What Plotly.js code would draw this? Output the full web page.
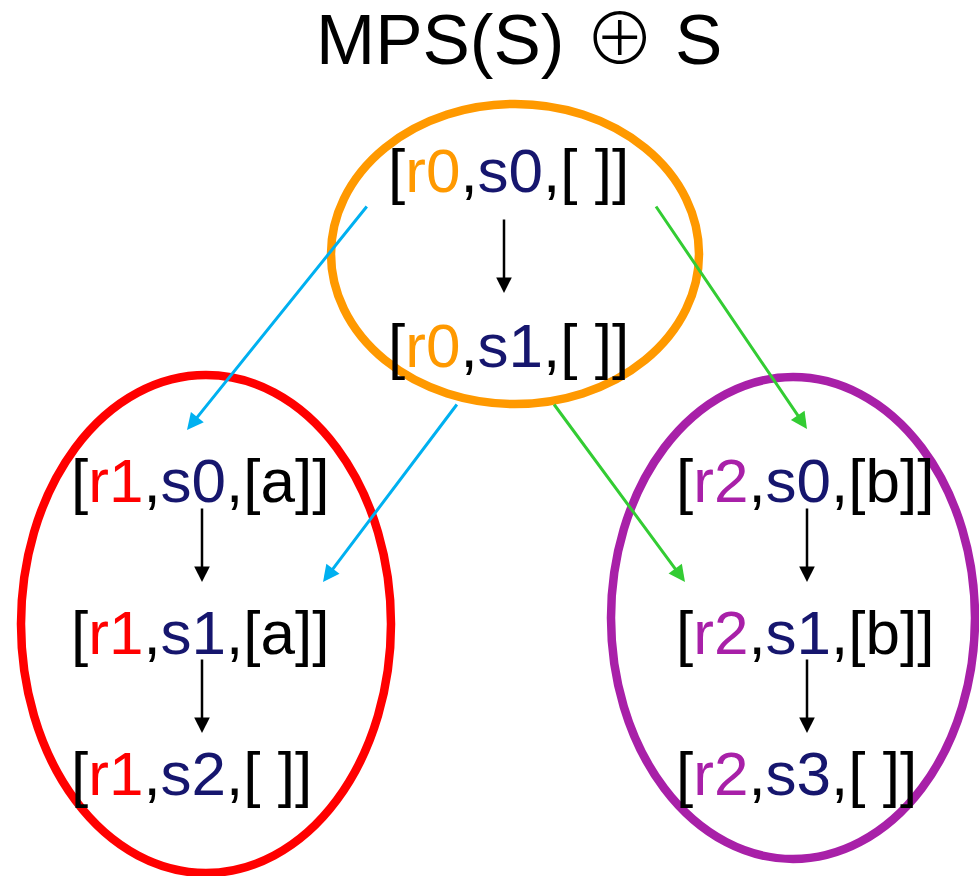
<!DOCTYPE html>
<html>
<head>
<meta charset="utf-8">
<script src="https://cdn.plot.ly/plotly-3.0.1.min.js"></script>
<style>html,body{margin:0;padding:0;background:#fff;}#chart{width:979px;height:876px;}</style>
</head>
<body>
<div id="chart"></div>
<script>
// ---- data ----
const titleMain = 'MPS(S)';
const titleOp = '⊕';
const titleTail = 'S';

const nodeR = ['r0', 'r0', 'r1', 'r1', 'r1', 'r2', 'r2', 'r2'];
const nodeS = ['s0', 's1', 's0', 's1', 's2', 's0', 's1', 's3'];
const nodeList = ['[ ]', '[ ]', '[a]', '[a]', '[ ]', '[b]', '[b]', '[ ]'];
const nodeGroup = [0, 0, 1, 1, 1, 2, 2, 2];
const nodeLeft = [386, 386, 69, 69, 69, 674, 674, 674];
const nodeMidY = [170, 345, 480, 632, 773, 480, 632, 773];

const groupCx = [515, 206, 793];
const groupCy = [254, 624, 618];
const groupRx = [184, 185, 182];
const groupRy = [150, 249, 241];
const groupColor = ['#FF9900', '#FF0000', '#A820A8'];

const arrowTailX = [504, 202, 202, 807, 807, 368, 458, 655, 553];
const arrowTailY = [218, 507, 658, 507, 658, 205, 403, 205, 403];
const arrowHeadX = [504, 202, 202, 807, 807, 187, 323, 807, 685];
const arrowHeadY = [293, 582, 733, 582, 733, 430, 582, 429, 582];
const arrowKind = ['step', 'step', 'step', 'step', 'step', 'blue', 'blue', 'green', 'green'];

const sColor = '#16166E';
const kindColor = {step: '#000000', blue: '#00B0F0', green: '#33CC33'};
const kindWidth = {step: 2.5, blue: 3, green: 3};
const kindSize = {step: 1.25, blue: 1.1, green: 1.1};

// ---- build ----
const FONT = 'Arial, "Liberation Sans", sans-serif';

const shapes = groupCx.map((cx, i) => ({
  type: 'circle', xref: 'x', yref: 'y',
  x0: cx - groupRx[i], x1: cx + groupRx[i],
  y0: groupCy[i] - groupRy[i], y1: groupCy[i] + groupRy[i],
  line: {color: groupColor[i], width: 8.5},
  fillcolor: 'rgba(0,0,0,0)', layer: 'above'
}));

const annotations = [];
nodeR.forEach((r, i) => {
  const rc = groupColor[nodeGroup[i]];
  annotations.push({
    xref: 'x', yref: 'y', x: nodeLeft[i], y: nodeMidY[i],
    xanchor: 'left', yanchor: 'middle', showarrow: false,
    text: '[<span style="color:' + rc + '">' + r + '</span>,<span style="color:' + sColor + '">' + nodeS[i] + '</span>,' + nodeList[i] + ']',
    font: {family: FONT, size: 62, color: '#000000'}
  });
});

arrowTailX.forEach((tx, i) => {
  const k = arrowKind[i];
  annotations.push({
    xref: 'x', yref: 'y', axref: 'x', ayref: 'y',
    x: arrowHeadX[i], y: arrowHeadY[i], ax: tx, ay: arrowTailY[i],
    text: '', showarrow: true, arrowhead: 2,
    arrowsize: kindSize[k], arrowwidth: kindWidth[k], arrowcolor: kindColor[k],
    standoff: 0, startstandoff: 0
  });
});

annotations.push({
  xref: 'x', yref: 'y', x: 519, y: 33, xanchor: 'center', yanchor: 'middle', showarrow: false,
  text: titleMain + ' <span style="font-family:\'Noto Sans CJK SC\';font-weight:300">' + titleOp + '</span> ' + titleTail,
  font: {family: FONT, size: 71, color: '#000000'}
});

const layout = {
  width: 979, height: 876,
  margin: {l: 0, r: 0, t: 0, b: 0, pad: 0},
  paper_bgcolor: '#ffffff', plot_bgcolor: '#ffffff',
  showlegend: false,
  xaxis: {range: [0, 979], visible: false, fixedrange: true},
  yaxis: {range: [876, 0], visible: false, fixedrange: true},
  shapes: shapes,
  annotations: annotations
};

Plotly.newPlot('chart', [{x: [], y: [], type: 'scatter', mode: 'markers', hoverinfo: 'skip'}], layout, {displayModeBar: false, staticPlot: true});
</script>
</body>
</html>
